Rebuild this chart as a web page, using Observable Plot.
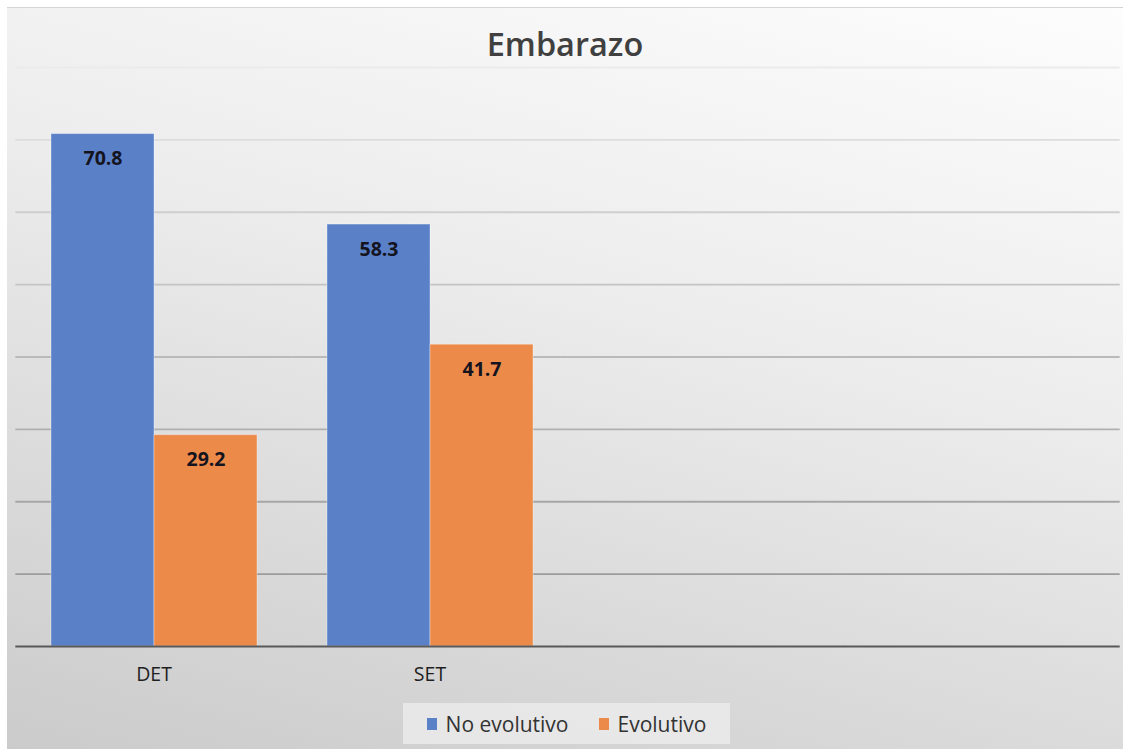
<!DOCTYPE html>
<html>
<head>
<meta charset="utf-8">
<script src="https://cdn.jsdelivr.net/npm/d3@7"></script>
<script src="https://cdn.jsdelivr.net/npm/@observablehq/plot@0.6"></script>
<style>
  html, body { margin: 0; padding: 0; background: #ffffff; }
  #page { position: relative; width: 1123px; height: 749px; overflow: hidden; background: #ffffff; }
  #panel {
    position: absolute; left: 7px; top: 7px; right: 0; bottom: 0;
    background: linear-gradient(195deg, #fdfdfd 0%, #ededed 40%, #d9d9d9 75%, #cbcbcb 100%);
    border-top: 1px solid #d4d4d4;
  }
  #title {
    position: absolute; left: 0; width: 1130px; top: 21px; text-align: center;
    font-family: "Open Sans", sans-serif; font-weight: 600; font-size: 32.5px; color: #404040;
  }
  #chart { position: absolute; left: 0; top: 0; }
  #legend {
    position: absolute; left: 403px; top: 703px; width: 327px; height: 41px;
    background: rgba(238,238,238,0.75);
    display: flex; align-items: center; justify-content: center; gap: 30px;
    font-family: "Open Sans", sans-serif; font-size: 21px; color: #333333;
  }
  .item { display: flex; align-items: center; gap: 9px; }
  .swatch { width: 10px; height: 12px; display: inline-block; }
</style>
</head>
<body>
<div id="page">
  <div id="panel"></div>
  <div id="title">Embarazo</div>
  <div id="chart"></div>
  <div id="legend"></div>
</div>
<script>
// Outcome by transfer type: share of pregnancies (%)
const categories = ["DET", "SET", " ", "  "];   // last two slots stay empty
const series = ["No evolutivo", "Evolutivo"];
const noEvolutivo = [70.8, 58.3];
const evolutivo = [29.2, 41.7];
const gridValues = [10, 20, 30, 40, 50, 60, 70, 80];
const colors = ["#5a80c8", "#ec8a49"];

const data = [];
categories.slice(0, 2).forEach((c, i) => {
  data.push({category: c, serie: series[0], value: noEvolutivo[i]});
  data.push({category: c, serie: series[1], value: evolutivo[i]});
});

// one set of gridlines per group slot, so the empty slots get them too
const grid = categories.flatMap(c => gridValues.map(v => ({category: c, value: v})));
const baseline = categories.map(c => ({category: c, value: 0}));

// gridlines are stretched into the gaps between groups
const gap = -34.7;

const chart = Plot.plot({
  width: 1123,
  height: 700,
  marginTop: 67,
  marginBottom: 54,
  marginLeft: 15,
  marginRight: 3,
  style: {background: "transparent", fontFamily: "Open Sans, sans-serif"},
  fx: {domain: categories, paddingInner: 0.25, paddingOuter: 0.125, label: null},
  x: {domain: series, padding: 0, axis: null},
  y: {domain: [0, 80], axis: null},
  color: {domain: series, range: colors},
  marks: [
    Plot.ruleY(grid, {fx: "category", y: "value", stroke: "url(#gridFade)", strokeWidth: 1.8, insetLeft: gap, insetRight: gap}),
    Plot.barY(data, {
      fx: "category", x: "serie", y: "value", fill: "serie",
      stroke: "#ffffff", strokeOpacity: 0.35, strokeWidth: 1
    }),
    Plot.text(data, {
      fx: "category", x: "serie", y: "value", text: d => d.value.toFixed(1),
      dy: 25, fontSize: 19.5, fontWeight: "bold", fill: "#14141f"
    }),
    Plot.ruleY(baseline, {fx: "category", y: "value", stroke: "#595959", strokeWidth: 2, insetLeft: gap, insetRight: gap}),
    Plot.axisFx({anchor: "bottom", tickSize: 0, tickPadding: 21, fontSize: 19.5, fill: "#1f1f1f", label: null})
  ]
});

// gridlines fade out towards the top of the plot
const y = chart.scale("y");
const ns = "http://www.w3.org/2000/svg";
const defs = document.createElementNS(ns, "defs");
const lg = document.createElementNS(ns, "linearGradient");
lg.setAttribute("id", "gridFade");
lg.setAttribute("gradientUnits", "userSpaceOnUse");
lg.setAttribute("x1", 0); lg.setAttribute("x2", 0);
lg.setAttribute("y1", y.apply(d3.max(gridValues)));
lg.setAttribute("y2", y.apply(d3.min(gridValues)));
[["0", "#ebebeb"], ["0.3", "#cdcdcd"], ["1", "#9c9c9c"]].forEach(([o, c]) => {
  const s = document.createElementNS(ns, "stop");
  s.setAttribute("offset", o);
  s.setAttribute("stop-color", c);
  lg.appendChild(s);
});
defs.appendChild(lg);
chart.insertBefore(defs, chart.firstChild);

document.getElementById("chart").appendChild(chart);

// Legend below the plot
const legend = document.getElementById("legend");
series.forEach((s, i) => {
  const item = document.createElement("span");
  item.className = "item";
  const sw = document.createElement("span");
  sw.className = "swatch";
  sw.style.background = colors[i];
  const label = document.createElement("span");
  label.textContent = s;
  item.appendChild(sw);
  item.appendChild(label);
  legend.appendChild(item);
});
</script>
</body>
</html>
